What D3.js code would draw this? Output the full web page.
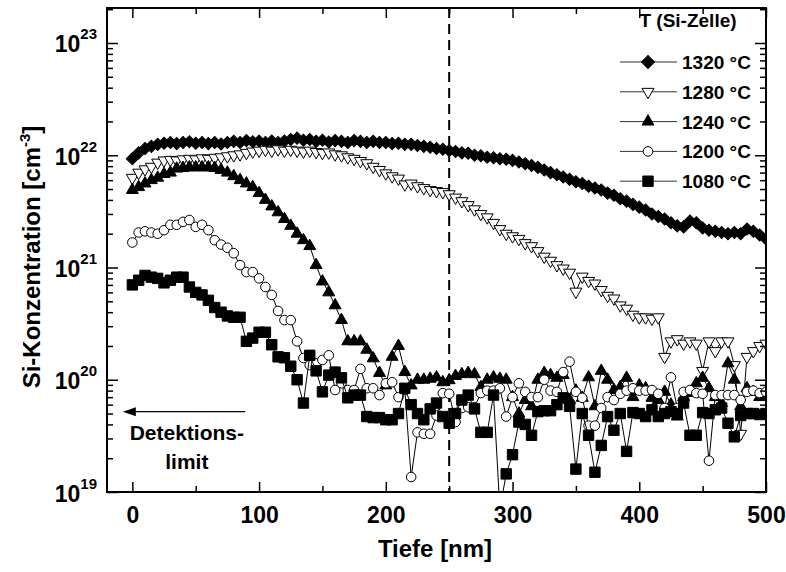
<!DOCTYPE html>
<html>
<head>
<meta charset="utf-8">
<style>
  body { margin: 0; background: #fff; }
  svg text { font-family: "Liberation Sans", Arial, sans-serif; font-weight: bold; fill: #000; }
</style>
<script src="https://d3js.org/d3.v7.min.js"></script>
</head>
<body>
<div id="chart"></div>
<script>
// Tiefe in nm (Messraster)
const depth = [0, 5, 10, 15, 20, 25, 30, 35, 40, 45, 50, 55, 60, 65, 70, 75, 80, 85, 90, 95,
  100, 105, 110, 115, 120, 125, 130, 135, 140, 145, 150, 155, 160, 165, 170, 175, 180, 185, 190, 195,
  200, 205, 210, 215, 220, 225, 230, 235, 240, 245, 250, 255, 260, 265, 270, 275, 280, 285, 290, 295,
  300, 305, 310, 315, 320, 325, 330, 335, 340, 345, 350, 355, 360, 365, 370, 375, 380, 385, 390, 395,
  400, 405, 410, 415, 420, 425, 430, 435, 440, 445, 450, 455, 460, 465, 470, 475, 480, 485, 490, 495, 500]

const labels = ["1320 °C", "1280 °C", "1240 °C", "1200 °C", "1080 °C"]

// Si-Konzentration in cm^-3
const c1320 = [9.3e21, 1.05e22, 1.15e22, 1.2e22, 1.25e22, 1.28e22, 1.3e22, 1.27e22, 1.3e22, 1.32e22,
  1.28e22, 1.3e22, 1.27e22, 1.3e22, 1.26e22, 1.3e22, 1.33e22, 1.3e22, 1.35e22, 1.32e22,
  1.34e22, 1.3e22, 1.34e22, 1.3e22, 1.34e22, 1.38e22, 1.42e22, 1.36e22, 1.38e22, 1.33e22,
  1.36e22, 1.31e22, 1.35e22, 1.33e22, 1.3e22, 1.35e22, 1.33e22, 1.3e22, 1.33e22, 1.3e22,
  1.3e22, 1.27e22, 1.28e22, 1.25e22, 1.25e22, 1.22e22, 1.2e22, 1.18e22, 1.15e22, 1.13e22,
  1.1e22, 1.08e22, 1.05e22, 1.04e22, 1.0e22, 9.9e21, 9.6e21, 9.5e21, 9.3e21, 9.2e21,
  9.0e21, 8.7e21, 8.4e21, 8.1e21, 7.8e21, 7.4e21, 7.0e21, 6.7e21, 6.4e21, 6.1e21,
  5.8e21, 5.6e21, 5.3e21, 5.1e21, 4.9e21, 4.6e21, 4.4e21, 4.1e21, 3.9e21, 3.65e21,
  3.45e21, 3.25e21, 3.0e21, 2.85e21, 2.7e21, 2.5e21, 2.35e21, 2.3e21, 2.6e21, 2.5e21,
  2.25e21, 2.15e21, 2.1e21, 2.05e21, 2.0e21, 2.05e21, 2.0e21, 2.2e21, 2.1e21, 1.95e21,
  1.8e21]

const c1280 = [6.3e21, 7.0e21, 7.5e21, 7.9e21, 8.6e21, 9.0e21, 9.1e21, 9.0e21, 9.2e21, 9.3e21,
  9.2e21, 9.4e21, 9.3e21, 9.5e21, 9.6e21, 9.8e21, 1.0e22, 1.02e22, 1.05e22, 1.08e22,
  1.1e22, 1.12e22, 1.1e22, 1.13e22, 1.1e22, 1.12e22, 1.1e22, 1.08e22, 1.1e22, 1.07e22,
  1.05e22, 1.06e22, 1.02e22, 1.0e22, 9.6e21, 9.3e21, 8.9e21, 8.5e21, 7.9e21, 7.4e21,
  6.9e21, 6.5e21, 6.2e21, 5.5e21, 5.6e21, 5.3e21, 5.1e21, 4.9e21, 4.8e21, 4.7e21,
  4.5e21, 4.2e21, 3.9e21, 3.6e21, 3.3e21, 3.0e21, 2.8e21, 2.5e21, 2.2e21, 2.0e21,
  1.9e21, 1.8e21, 1.65e21, 1.55e21, 1.4e21, 1.25e21, 1.15e21, 1.05e21, 9.8e20, 9.0e20,
  6.1e20, 8.3e20, 7.6e20, 7.2e20, 6.3e20, 5.6e20, 5.3e20, 4.6e20, 4.3e20, 3.8e20,
  3.6e20, 3.6e20, 3.5e20, 3.6e20, 1.6e20, 2.2e20, 2.3e20, 2.1e20, 2.2e20, 2.1e20,
  1.2e20, 2.2e20, 1.8e20, 2.2e20, 2.2e20, 1.35e20, 3.3e19, 1.6e20, 1.8e20, 2.0e20,
  2.1e20]

const c1240 = [4.9e21, 5.2e21, 5.6e21, 6.0e21, 6.3e21, 6.8e21, 7.0e21, 7.6e21, 7.7e21, 7.8e21,
  7.8e21, 7.8e21, 7.8e21, 7.7e21, 7.4e21, 7.0e21, 6.5e21, 6.0e21, 5.6e21, 5.2e21,
  4.6e21, 4.0e21, 3.5e21, 3.1e21, 2.7e21, 2.35e21, 2.0e21, 1.75e21, 1.55e21, 1.05e21,
  7.5e20, 6.0e20, 4.6e20, 3.4e20, 2.2e20, 2.2e20, 2.2e20, 1.85e20, 1.55e20, 1.15e20,
  8.9e19, 1.6e20, 2.0e20, 1.17e20, 8.9e19, 1.0e20, 1.0e20, 1.02e20, 1.05e20, 9.5e19,
  9.9e19, 1.08e20, 1.12e20, 1.15e20, 1.12e20, 8.6e19, 1.0e20, 1.05e20, 1.02e20, 1.0e20,
  7.0e19, 5.0e19, 6.6e19, 5.8e19, 1.0e20, 1.15e20, 1.1e20, 1.04e20, 1.1e20, 6.6e19,
  8.0e19, 6.9e19, 1.05e20, 5.8e19, 1.2e20, 1.0e20, 8.1e19, 8.6e19, 1.04e20, 7.0e19,
  8.9e19, 8.4e19, 6.9e19, 6.6e19, 7.8e19, 6.0e19, 4.7e19, 7.0e19, 7.6e19, 9.3e19,
  1.04e20, 8.4e19, 7.0e19, 6.2e19, 1.4e20, 1.0e20, 5.8e19, 8.4e19, 7.8e19, 7.0e19,
  7.5e19]

const c1200 = [1.67e21, 2.05e21, 2.1e21, 2.05e21, 2.0e21, 2.15e21, 2.4e21, 2.4e21, 2.55e21, 2.65e21,
  2.3e21, 2.4e21, 2.15e21, 1.75e21, 1.6e21, 1.5e21, 1.34e21, 1.05e21, 9.1e20, 9.1e20,
  8.0e20, 6.7e20, 5.7e20, 4.1e20, 3.4e20, 3.4e20, 2.2e20, 1.56e20, 1.35e20, 1.4e20,
  1.5e20, 1.65e20, 8.1e19, 9.3e19, 8.1e19, 8.1e19, 1.25e20, 8.4e19, 8.4e19, 7.3e19,
  9.3e19, 9.5e19, 7.0e19, 8.1e19, 1.36e19, 3.4e19, 3.3e19, 3.3e19, 4.8e19, 7.6e19,
  7.5e19, 4.2e19, 5.6e19, 5.7e19, 5.7e19, 7.6e19, 8.0e19, 8.0e19, 8.4e19, 4.7e19,
  7.0e19, 9.3e19, 7.8e19, 7.0e19, 7.0e19, 1.0e20, 8.0e19, 7.8e19, 1.17e20, 1.45e20,
  7.8e19, 6.9e19, 3.9e19, 3.9e19, 5.6e19, 7.0e19, 6.6e19, 7.5e19, 8.0e19, 8.4e19,
  8.0e19, 8.0e19, 8.1e19, 7.5e19, 5.6e19, 1.05e20, 5.6e19, 7.8e19, 8.1e19, 7.6e19,
  7.5e19, 1.9e19, 7.3e19, 7.3e19, 7.3e19, 7.3e19, 6.6e19, 7.8e19, 8.0e19, 7.6e19,
  7.8e19]

const c1080 = [7.0e20, 7.7e20, 8.5e20, 8.2e20, 8.0e20, 7.3e20, 7.7e20, 8.2e20, 8.2e20, 6.7e20,
  6.0e20, 5.7e20, 5.1e20, 4.4e20, 4.0e20, 3.7e20, 3.6e20, 3.6e20, 2.2e20, 2.35e20,
  2.65e20, 2.65e20, 2.05e20, 1.6e20, 1.57e20, 1.32e20, 1.0e20, 6.2e19, 1.65e20, 1.2e20,
  7.8e19, 1.1e20, 1.17e20, 1.04e20, 6.9e19, 7.3e19, 7.3e19, 4.7e19, 4.6e19, 4.6e19,
  4.4e19, 4.4e19, 5.0e19, 8.4e19, 6.0e19, 5.0e19, 4.4e19, 5.5e19, 6.2e19, 4.7e19,
  4.1e19, 5.0e19, 6.6e19, 7.3e19, 5.5e19, 3.4e19, 3.4e19, 7.3e19, 7.0e18, 1.45e19,
  2.15e19, 4.2e19, 4.0e19, 3.2e19, 5.2e19, 5.3e19, 5.3e19, 6.0e19, 6.9e19, 5.8e19,
  1.6e19, 5.0e19, 3.2e19, 1.5e19, 2.6e19, 4.7e19, 3.55e19, 5.0e19, 2.3e19, 5.1e19,
  5.0e19, 4.7e19, 5.4e19, 4.7e19, 5.0e19, 5.2e19, 5.0e19, 6.2e19, 3.2e19, 3.2e19,
  5.1e19, 5.0e19, 5.4e19, 5.6e19, 4.1e19, 3.1e19, 4.8e19, 5.0e19, 5.0e19, 4.9e19,
  5.0e19]

const xTicks = [0, 100, 200, 300, 400, 500]
const xMinor = [50, 150, 250, 350, 450]
const yTicks = [1e19, 1e20, 1e21, 1e22, 1e23]
const yExp = ["19", "20", "21", "22", "23"]
const detLimitDepth = 250

const w = 786, h = 572
const margin = {top: 8, right: 20, bottom: 80, left: 107}

const x = d3.scaleLinear().domain([-20, 500]).range([margin.left, w - margin.right])
const y = d3.scaleLog().domain([1e19, 2.05e23]).range([h - margin.bottom, margin.top])

const yMinor = []
yTicks.forEach(t => { for (let m = 2; m <= 9; m++) if (t * m < 2.05e23) yMinor.push(t * m) })

const svg = d3.select("#chart").append("svg")
  .attr("width", w).attr("height", h)

svg.append("defs").append("clipPath").attr("id", "plot-clip")
  .append("rect")
  .attr("x", margin.left).attr("y", margin.top)
  .attr("width", w - margin.left - margin.right)
  .attr("height", h - margin.top - margin.bottom)

// symbols
const sym = {
  diamond: d3.symbol().type(d3.symbolSquare).size(74),
  triangle: d3.symbol().type(d3.symbolTriangle).size(62),
  circle: d3.symbol().type(d3.symbolCircle).size(72),
  square: d3.symbol().type(d3.symbolSquare).size(108)
}

const series = [
  {name: labels[0], values: c1320, shape: "diamond", rot: 45, fill: "#000"},
  {name: labels[1], values: c1280, shape: "triangle", rot: 180, fill: "#fff"},
  {name: labels[2], values: c1240, shape: "triangle", rot: 0, fill: "#000"},
  {name: labels[3], values: c1200, shape: "circle", rot: 0, fill: "#fff"},
  {name: labels[4], values: c1080, shape: "square", rot: 0, fill: "#000"}
]

const line = d3.line().x(d => x(d[0])).y(d => y(d[1]))

// dashed line at 250 nm
svg.append("line")
  .attr("x1", x(detLimitDepth)).attr("x2", x(detLimitDepth))
  .attr("y1", margin.top).attr("y2", h - margin.bottom)
  .style("stroke", "#000").style("stroke-width", 2)
  .style("stroke-dasharray", "10,6")

const plot = svg.append("g").attr("clip-path", "url(#plot-clip)")

series.forEach(s => {
  const pts = depth.map((d, i) => [d, s.values[i]])
  const g = plot.append("g")
  g.append("path")
    .datum(pts)
    .attr("d", line)
    .style("fill", "none")
    .style("stroke", "#000")
    .style("stroke-width", 1)
  g.selectAll("path.mark")
    .data(pts)
    .enter()
    .append("path")
    .attr("class", "mark")
    .attr("d", sym[s.shape]())
    .attr("transform", d => "translate(" + x(d[0]) + "," + y(d[1]) + ") rotate(" + s.rot + ")")
    .style("fill", s.fill)
    .style("stroke", "#000")
    .style("stroke-width", 1)
})

// axes (ticks inward)
const xb = h - margin.bottom, xt = margin.top, yl = margin.left, yr = w - margin.right

const bottomAxis = svg.append("g").attr("transform", "translate(0," + xb + ")")
  .call(d3.axisBottom(x).tickValues(xTicks).tickSize(-10).tickPadding(15))
bottomAxis.selectAll("text").style("font-size", "23px")
svg.append("g").attr("transform", "translate(0," + xb + ")")
  .call(d3.axisBottom(x).tickValues(xMinor).tickSize(-6).tickFormat(""))

svg.append("g").attr("transform", "translate(0," + xt + ")")
  .call(d3.axisTop(x).tickValues(xTicks).tickSize(-10).tickFormat(""))
svg.append("g").attr("transform", "translate(0," + xt + ")")
  .call(d3.axisTop(x).tickValues(xMinor).tickSize(-6).tickFormat(""))

const leftAxis = svg.append("g").attr("transform", "translate(" + yl + ",0)")
  .call(d3.axisLeft(y).tickValues(yTicks).tickSize(-11).tickPadding(10).tickFormat(""))
leftAxis.selectAll(".tick text")
  .style("font-size", "23px")
  .attr("dy", 9)
  .each(function(d, i) {
    const t = d3.select(this)
    t.append("tspan").text("10")
    t.append("tspan").attr("dy", -13).style("font-size", "15px").text(yExp[i])
  })
svg.append("g").attr("transform", "translate(" + yl + ",0)")
  .call(d3.axisLeft(y).tickValues(yMinor).tickSize(-6).tickFormat(""))

svg.append("g").attr("transform", "translate(" + yr + ",0)")
  .call(d3.axisRight(y).tickValues(yTicks).tickSize(-11).tickFormat(""))
svg.append("g").attr("transform", "translate(" + yr + ",0)")
  .call(d3.axisRight(y).tickValues(yMinor).tickSize(-6).tickFormat(""))

svg.selectAll(".domain").remove()
svg.selectAll(".tick line").style("stroke", "#000").style("stroke-width", 1.5)

svg.append("rect")
  .attr("x", yl).attr("y", xt)
  .attr("width", yr - yl).attr("height", xb - xt)
  .style("fill", "none").style("stroke", "#000").style("stroke-width", 2)

// axis titles
svg.append("text")
  .attr("x", 435).attr("y", 557)
  .attr("text-anchor", "middle")
  .style("font-size", "24px")
  .text("Tiefe [nm]")

const yTitle = svg.append("text")
  .attr("transform", "translate(40,257) rotate(-90)")
  .attr("text-anchor", "middle")
  .style("font-size", "24px")
yTitle.append("tspan").text("Si-Konzentration [cm")
yTitle.append("tspan").attr("dy", -10).style("font-size", "15px").text("-3")
yTitle.append("tspan").attr("dy", 10).text("]")

// detection limit annotation
const arrowY = y(5.2e19)
svg.append("line")
  .attr("x1", x(89)).attr("x2", x(-4))
  .attr("y1", arrowY).attr("y2", arrowY)
  .style("stroke", "#000").style("stroke-width", 1.2)
svg.append("path")
  .attr("d", "M" + x(-7.5) + "," + arrowY + " l13,-4.5 l0,9 z")
  .style("fill", "#000")
svg.append("text")
  .attr("x", x(43)).attr("y", arrowY + 28)
  .attr("text-anchor", "middle").style("font-size", "21px")
  .text("Detektions-")
svg.append("text")
  .attr("x", x(43)).attr("y", arrowY + 57)
  .attr("text-anchor", "middle").style("font-size", "21px")
  .text("limit")

// legend
const legend = svg.append("g")
legend.append("text")
  .attr("x", 688).attr("y", 27)
  .attr("text-anchor", "middle").style("font-size", "19px")
  .text("T (Si-Zelle)")

const legSym = {
  diamond: d3.symbol().type(d3.symbolSquare).size(84),
  triangle: d3.symbol().type(d3.symbolTriangle).size(62),
  circle: d3.symbol().type(d3.symbolCircle).size(72),
  square: d3.symbol().type(d3.symbolSquare).size(108)
}

const rows = legend.selectAll("g.row")
  .data(series)
  .enter()
  .append("g")
  .attr("class", "row")
  .attr("transform", (d, i) => "translate(0," + (62 + i * 29.8) + ")")
rows.append("line")
  .attr("x1", 620).attr("x2", 677)
  .style("stroke", "#333").style("stroke-width", 1)
rows.append("path")
  .attr("d", d => legSym[d.shape]())
  .attr("transform", d => "translate(648,0) rotate(" + d.rot + ")")
  .style("fill", d => d.fill)
  .style("stroke", "#000")
  .style("stroke-width", 1)
rows.append("text")
  .attr("x", 682).attr("y", 7)
  .style("font-size", "19px")
  .text(d => d.name)
</script>
</body>
</html>
